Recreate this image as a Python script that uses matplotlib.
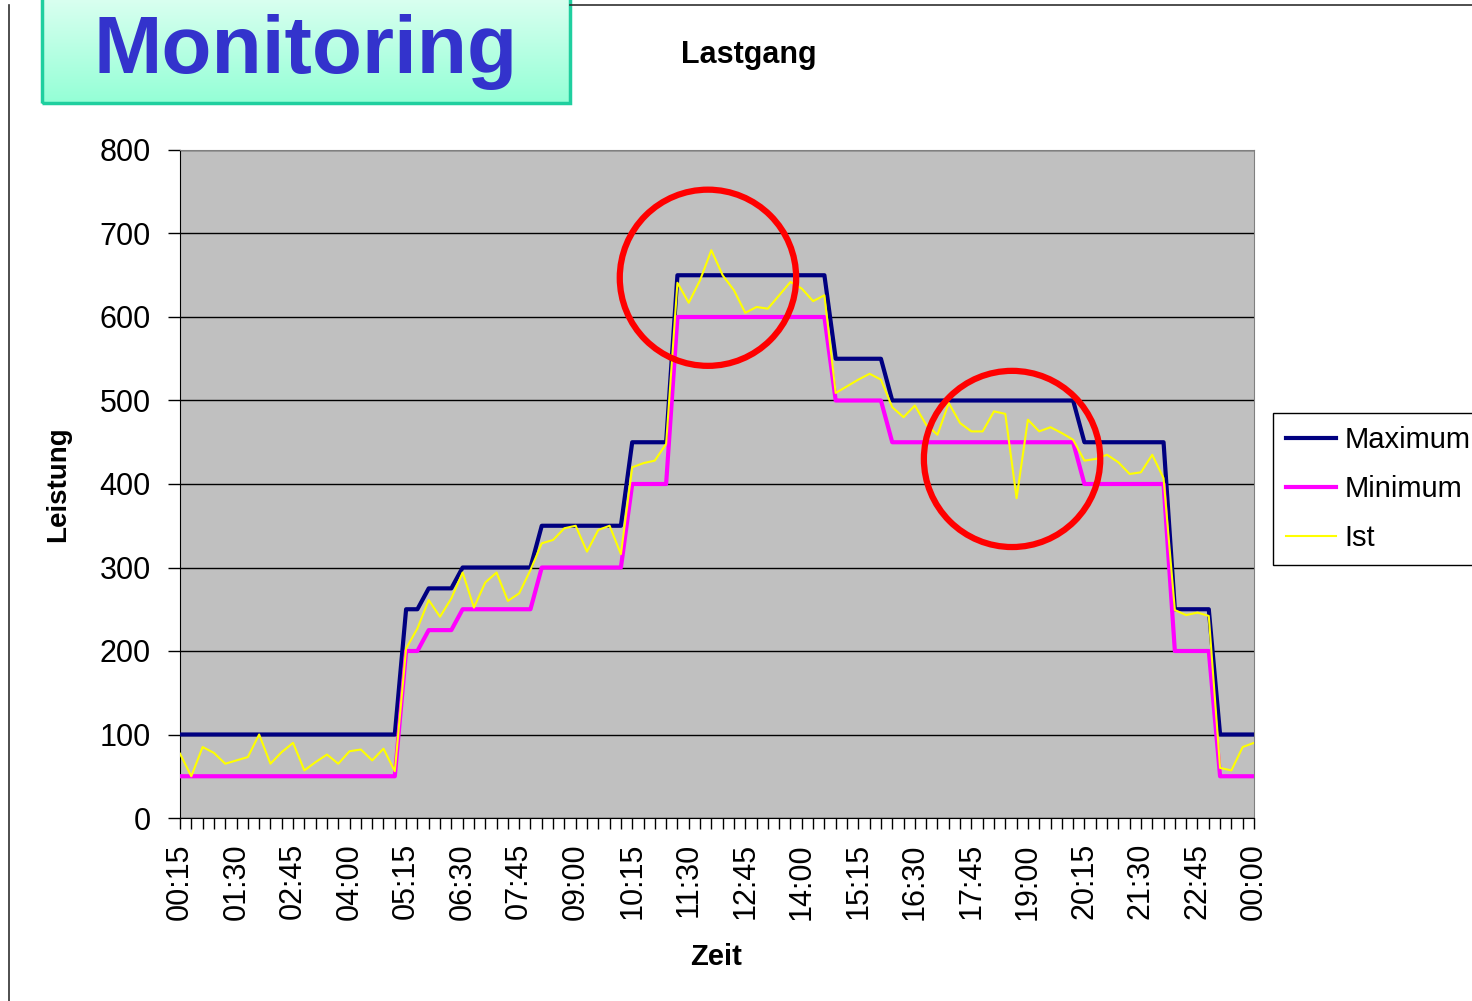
import matplotlib
matplotlib.use("Agg")
import matplotlib.pyplot as plt
import numpy as np
from matplotlib.patches import Ellipse, Rectangle
from matplotlib.lines import Line2D

plt.rcParams['font.family'] = ['Liberation Sans', 'DejaVu Sans']

# Lastgang, 96 quarter-hour values from 00:15 to 00:00
maximum = [100, 100, 100, 100, 100, 100, 100, 100, 100, 100,
           100, 100, 100, 100, 100, 100, 100, 100, 100, 100,
           250, 250, 275, 275, 275, 300, 300, 300, 300, 300,
           300, 300, 350, 350, 350, 350, 350, 350, 350, 350,
           450, 450, 450, 450, 650, 650, 650, 650, 650, 650,
           650, 650, 650, 650, 650, 650, 650, 650, 550, 550,
           550, 550, 550, 500, 500, 500, 500, 500, 500, 500,
           500, 500, 500, 500, 500, 500, 500, 500, 500, 500,
           450, 450, 450, 450, 450, 450, 450, 450, 250, 250,
           250, 250, 100, 100, 100, 100]
minimum = [50, 50, 50, 50, 50, 50, 50, 50, 50, 50,
           50, 50, 50, 50, 50, 50, 50, 50, 50, 50,
           200, 200, 225, 225, 225, 250, 250, 250, 250, 250,
           250, 250, 300, 300, 300, 300, 300, 300, 300, 300,
           400, 400, 400, 400, 600, 600, 600, 600, 600, 600,
           600, 600, 600, 600, 600, 600, 600, 600, 500, 500,
           500, 500, 500, 450, 450, 450, 450, 450, 450, 450,
           450, 450, 450, 450, 450, 450, 450, 450, 450, 450,
           400, 400, 400, 400, 400, 400, 400, 400, 200, 200,
           200, 200, 50, 50, 50, 50]
ist = [77, 50, 85, 78, 65, 69, 73, 100, 65, 79,
       90, 57, 67, 76, 65, 80, 82, 69, 83, 56,
       203, 227, 261, 241, 263, 294, 252, 282, 294, 260,
       269, 297, 329, 333, 347, 350, 319, 345, 350, 316,
       420, 425, 428, 448, 641, 617, 644, 680, 650, 632,
       605, 612, 610, 626, 642, 634, 619, 626, 509, 517,
       525, 532, 525, 492, 480, 494, 471, 459, 497, 473,
       463, 463, 487, 484, 383, 477, 463, 468, 461, 453,
       428, 430, 435, 426, 412, 414, 435, 407, 249, 243,
       246, 242, 60, 57, 85, 90]

tick_labels = ['00:15', '01:30', '02:45', '04:00', '05:15', '06:30', '07:45',
               '09:00', '10:15', '11:30', '12:45', '14:00', '15:15', '16:30',
               '17:45', '19:00', '20:15', '21:30', '22:45', '00:00']

# highlighted regions (center index, center value)
circles = [(46.7, 647), (73.6, 430)]

W, H = 1472, 1001
fig = plt.figure(figsize=(W / 100, H / 100), dpi=100)

# slide frame
fig.add_artist(Line2D([9 / W, 9 / W], [0, 1 - 5 / H], transform=fig.transFigure,
                      color='#303030', lw=1.2))
fig.add_artist(Line2D([570 / W, 1], [1 - 5 / H, 1 - 5 / H], transform=fig.transFigure,
                      color='#303030', lw=1.2))

# title box
bx = fig.add_axes([42 / W, 1 - 103 / H, 528 / W, 103 / H])
grad = np.linspace(0, 1, 100).reshape(-1, 1)
top = np.array([0.85, 1.0, 0.94])
bot = np.array([0.58, 1.0, 0.84])
img = top + grad[..., None] * (bot - top)
bx.imshow(img, aspect='auto', extent=[0, 1, 0, 1])
bx.add_patch(Rectangle((0, 0), 1, 1.05, fill=False, edgecolor='#1fcf9f', lw=2.5,
                       transform=bx.transAxes, clip_on=False))
bx.set_xlim(0, 1)
bx.set_ylim(0, 1)
bx.axis('off')
fig.text(306 / W, 1 - 73 / H, 'Monitoring', fontsize=59, fontweight='bold',
         color='#3333cc', ha='center', va='baseline')

# chart
ax = fig.add_axes([180 / W, 1 - 818 / H, 1074 / W, 668 / H])
ax.set_facecolor('#c0c0c0')
x = np.arange(len(ist))
ax.plot(x, maximum, color='#000080', lw=3, label='Maximum', zorder=3)
ax.plot(x, minimum, color='#ff00ff', lw=3, label='Minimum', zorder=3)
ax.plot(x, ist, color='#ffff00', lw=1.5, label='Ist', zorder=4)

ax.set_xlim(0, len(ist) - 1)
ax.set_ylim(0, 800)
ax.set_yticks(range(0, 801, 100))
ax.yaxis.grid(True, color='#000000', lw=1.0)
ax.set_axisbelow(True)
ax.set_xticks(x, minor=True)
ax.set_xticks(x[::5])
ax.set_xticklabels(tick_labels, rotation=90)
ax.tick_params(axis='x', which='both', length=8, width=1, direction='out', labelsize=22, pad=10)
ax.tick_params(axis='y', length=9, width=1, labelsize=22, pad=12)
for s in ['top', 'right']:
    ax.spines[s].set_color('#808080')
for s in ['left', 'bottom']:
    ax.spines[s].set_color('#000000')

for cx, cy in circles:
    ax.add_patch(Ellipse((cx, cy), width=15.6, height=211, fill=False,
                         edgecolor='#ff0000', lw=4.5, zorder=5, clip_on=False))

fig.text(749 / W, 1 - 55 / H, 'Lastgang', fontsize=22, fontweight='bold',
         ha='center', va='center')
fig.text(716 / W, 1 - 957 / H, 'Zeit', fontsize=21, fontweight='bold',
         ha='center', va='center')
fig.text(58 / W, 1 - 484 / H, 'Leistung', fontsize=20, fontweight='bold',
         ha='center', va='center', rotation=90)

leg = ax.legend(loc='upper left', bbox_to_anchor=(1273 / W, 1 - 413 / H),
                bbox_transform=fig.transFigure, fontsize=21, frameon=True,
                fancybox=False, edgecolor='#000000', framealpha=1,
                handlelength=1.7, handletextpad=0.3, labelspacing=0.72,
                borderpad=0.45, borderaxespad=0)
leg.get_frame().set_linewidth(1.0)

fig.savefig('out.png', dpi=100)
